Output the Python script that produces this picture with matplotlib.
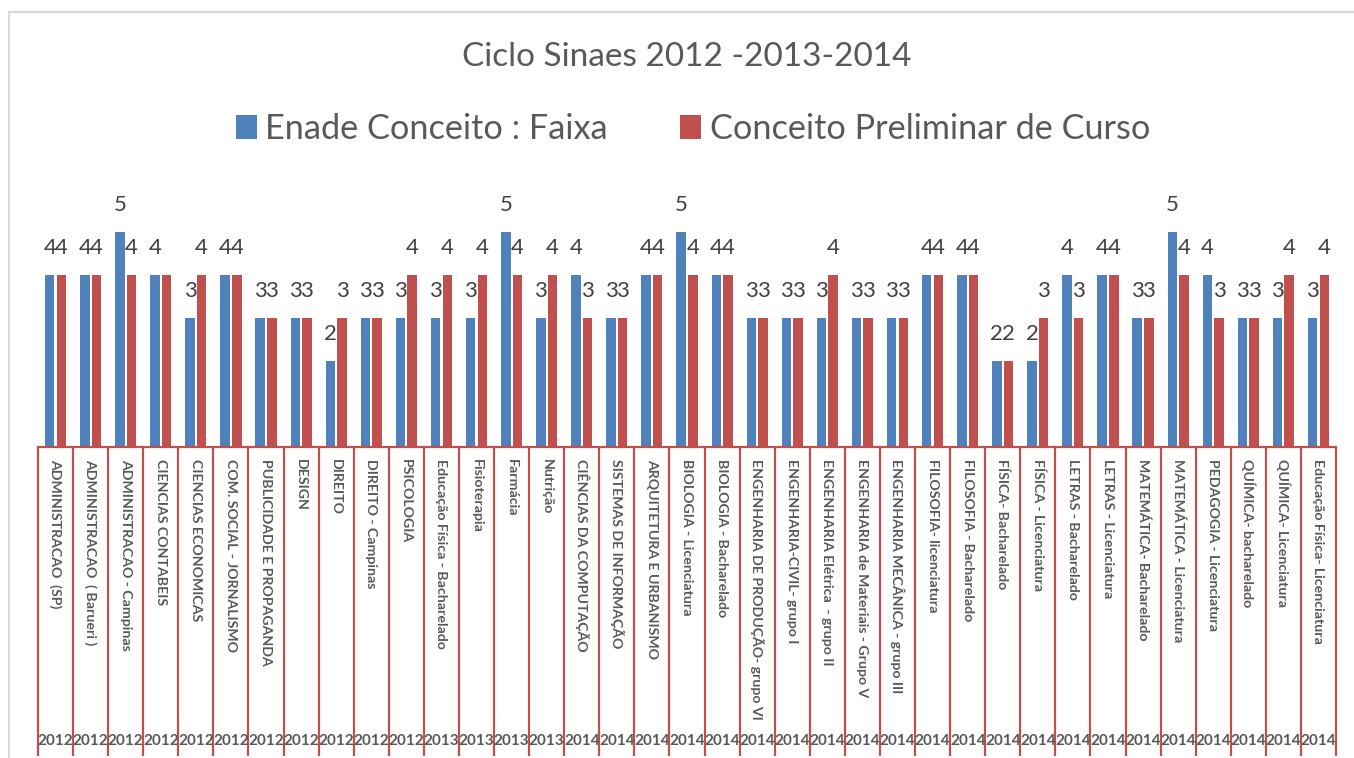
import matplotlib
matplotlib.use('Agg')
import matplotlib.pyplot as plt
from matplotlib.lines import Line2D
import numpy as np

# ---------------- data ----------------
categories = [
    "ADMINISTRACAO  (SP)", "ADMINISTRACAO  ( Barueri )", "ADMINISTRACAO - Campinas",
    "CIENCIAS CONTABEIS", "CIENCIAS ECONOMICAS", "COM. SOCIAL - JORNALISMO",
    "PUBLICIDADE E PROPAGANDA", "DESIGN", "DIREITO", "DIREITO - Campinas", "PSICOLOGIA",
    "Educação Física - Bacharelado", "Fisioterapia", "Farmácia", "Nutrição",
    "CIÊNCIAS DA COMPUTAÇÃO", "SISTEMAS DE INFORMAÇÃO", "ARQUITETURA E URBANISMO",
    "BIOLOGIA - Licenciatura", "BIOLOGIA - Bacharelado", "ENGENHARIA DE PRODUÇÃO- grupo VI",
    "ENGENHARIA-CIVIL- grupo I", "ENGENHARIA Elétrica  - grupo II",
    "ENGENHARIA de Materiais - Grupo V", "ENGENHARIA MECÂNICA - grupo III",
    "FILOSOFIA- licenciatura", "FILOSOFIA - Bacharelado", "FÍSICA- Bacharelado",
    "FÍSICA - Licenciatura", "LETRAS - Bacharelado", "LETRAS - Licenciatura",
    "MATEMÁTICA- Bacharelado", "MATEMÁTICA - Licenciatura", "PEDAGOGIA - Licenciatura",
    "QUÍMICA- bacharelado", "QUÍMICA- Licenciatura", "Educação Física- Licenciatura",
]
years = ["2012"] * 11 + ["2013"] * 4 + ["2014"] * 22
enade = [4, 4, 5, 4, 3, 4, 3, 3, 2, 3, 3, 3, 3, 5, 3, 4, 3, 4, 5, 4, 3, 3, 3, 3, 3,
         4, 4, 2, 2, 4, 4, 3, 5, 4, 3, 3, 3]
cpc = [4, 4, 4, 4, 4, 4, 3, 3, 3, 3, 4, 4, 4, 4, 4, 3, 3, 4, 4, 4, 3, 3, 4, 3, 3,
       4, 4, 2, 3, 3, 4, 3, 4, 3, 3, 4, 4]
cpc_hidden_labels = ["CIENCIAS CONTABEIS"]
series_names = ["Enade Conceito : Faixa", "Conceito Preliminar de Curso"]
title = "Ciclo Sinaes 2012 -2013-2014"

# ---------------- style ----------------
FONT = ['Lato', 'DejaVu Sans']
BLUE = '#4F81BD'
RED = '#C0504D'
TXT = '#595959'
W, H = 1354, 758


def fx(px):
    return px / W


def fy(py):
    return 1 - py / H


fig = plt.figure(figsize=(W / 100, H / 100), dpi=100)
fig.patch.set_facecolor('white')

ax_l, ax_r, ax_b, ax_t = 38, 1336, 447, 190
ax = fig.add_axes([fx(ax_l), fy(ax_b), (ax_r - ax_l) / W, (ax_b - ax_t) / H])
unit_px = 43.0
n = len(categories)
x = np.arange(n)
bw = 0.27
off = 0.166
b1 = ax.bar(x - off, enade, bw, color=BLUE, label=series_names[0], zorder=2)
b2 = ax.bar(x + off, cpc, bw, color=RED, label=series_names[1], zorder=2)
ax.set_xlim(-0.5, n - 0.5)
ax.set_ylim(0, (ax_b - ax_t) / unit_px)
ax.axis('off')

# data labels
ax.bar_label(b1, labels=[str(v) for v in enade], padding=12, fontsize=16,
             color='#404040', family=FONT)
ax.bar_label(b2, labels=['' if c in cpc_hidden_labels else str(v)
                         for c, v in zip(categories, cpc)],
             padding=12, fontsize=16, color='#404040', family=FONT)

# category axis (two-level)
trans = ax.get_xaxis_transform()
ax_h = ax_b - ax_t


def ay(py):
    return (ax_b - py) / ax_h


ax.plot([-0.5, n - 0.5], [0, 0], color=RED, lw=1.6, transform=trans,
        clip_on=False, zorder=3)
ax.vlines(np.arange(n + 1) - 0.5, ay(756), 0, transform=trans, colors=RED,
          lw=1.6, clip_on=False, zorder=3)
for i, (c, yr) in enumerate(zip(categories, years)):
    ax.text(i, ay(459), c, rotation=270, ha='center', va='top', transform=trans,
            fontsize=10.2, fontweight='bold', color=TXT, family=FONT, clip_on=False)
    ax.text(i, ay(741), yr, ha='center', va='center', transform=trans,
            fontsize=11, fontweight='bold', color=TXT, family=FONT, clip_on=False)

# title and legend
fig.text(fx(687), fy(57), title, ha='center', va='center', fontsize=24,
         color=TXT, family=FONT)
fig.legend(handles=[b1, b2], loc='center', bbox_to_anchor=(fx(693), fy(129)),
           ncol=2, frameon=False, prop={'family': FONT, 'size': 24.7},
           handlelength=0.61, handleheight=0.67, handletextpad=0.26,
           columnspacing=2.1, labelcolor=TXT)

# chart border
fig.add_artist(Line2D([fx(9), fx(9)], [fy(12), 0], color='#D9D9D9', lw=1.5,
                      transform=fig.transFigure))
fig.add_artist(Line2D([fx(9), 1], [fy(12), fy(12)], color='#D9D9D9', lw=1.5,
                      transform=fig.transFigure))

fig.savefig('out.png', dpi=100, facecolor='white')
